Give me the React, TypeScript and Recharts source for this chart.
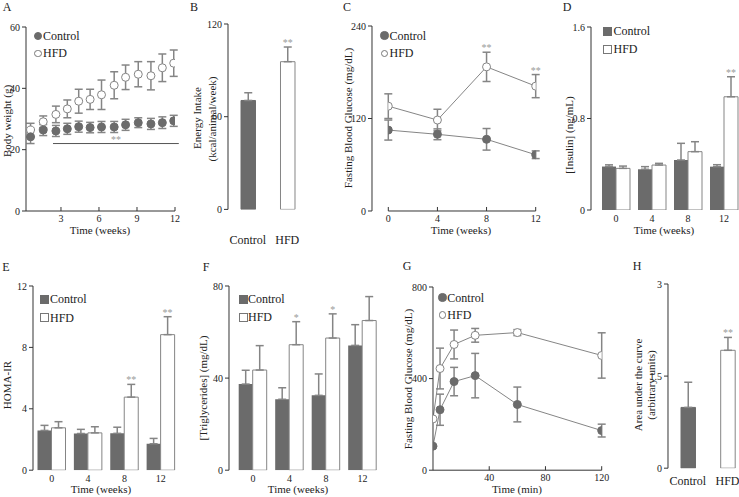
import React from 'react';
import { ComposedChart, Line, Bar, XAxis, YAxis, ErrorBar, Cell, LabelList, ReferenceLine } from 'recharts';

const FONT = '"Liberation Serif", "Times New Roman", "DejaVu Serif", serif';
const DARK = '#6b6b6b';
const LINE = '#858585';
const AXIS = '#333';
const STAR = '#9a9a9a';

// A: body weight (g) per week
const bwWeeks = [0.6, 1.6, 2.6, 3.5, 4.4, 5.3, 6.2, 7.2, 8.1, 9.1, 10.1, 11, 11.9];
const bwControl = [24.2, 26.4, 26.1, 26.8, 27.5, 27.2, 27.4, 27.4, 28.1, 28.8, 28.4, 28.8, 29.4];
const bwControlErr = [2.2, 1.8, 1.8, 1.8, 1.8, 1.7, 1.8, 1.8, 1.8, 1.6, 1.8, 1.9, 1.8];
const bwHfd = [26.4, 29.1, 31.5, 33.3, 35.8, 36.4, 37.9, 41.0, 43.6, 44.6, 44.1, 46.7, 48.2];
const bwHfdErr = [2.2, 1.9, 2.7, 2.9, 3.9, 3.3, 4.8, 4.4, 4.0, 4.1, 4.6, 4.5, 4.3];
const bwSigSpan = [2.37, 12.3];
const bwSigLevel = 22;

// B: energy intake
const eiGroups = ['Control', 'HFD'];
const eiMean = [70.5, 95.6];
const eiErr = [5, 9.5];
const eiStars = ['', '**'];

// C: fasting blood glucose
const fbgWeeks = [0, 4, 8, 12];
const fbgControl = [105, 99.5, 93, 73];
const fbgControlErr = [13, 7, 14, 5];
const fbgHfd = [136, 118, 187, 162];
const fbgHfdErr = [16, 14, 19, 15];
const fbgStars = ['', '', '**', '**'];

// D: insulin
const weekLabels = ['0', '4', '8', '12'];
const insControl = [0.38, 0.356, 0.437, 0.379];
const insControlErr = [0.015, 0.023, 0.146, 0.017];
const insHfd = [0.364, 0.393, 0.51, 0.99];
const insHfdErr = [0.02, 0.015, 0.087, 0.175];
const insStars = ['', '', '', '**'];

// E: HOMA-IR
const homaControl = [2.59, 2.39, 2.4, 1.72];
const homaControlErr = [0.33, 0.27, 0.4, 0.35];
const homaHfd = [2.76, 2.43, 4.76, 8.83];
const homaHfdErr = [0.4, 0.4, 0.83, 1.17];
const homaStars = ['', '', '**', '**'];

// F: triglycerides
const tgControl = [37.4, 30.8, 32.5, 54.2];
const tgControlErr = [6, 5, 9.3, 9];
const tgHfd = [43.5, 54.5, 57.4, 65];
const tgHfdErr = [10.6, 10, 10.5, 10.4];
const tgStars = ['', '*', '*', ''];

// G: glucose tolerance
const gttMinutes = [0, 5, 15, 30, 60, 120];
const gttControl = [105, 264, 387, 413, 287, 173];
const gttControlErr = [null, 68, 62, 97, 76, 28];
const gttHfd = [224, 444, 549, 589, 601, 501];
const gttHfdErr = [null, 89, 63, 30, 13, 99];

// H: area under the curve
const aucGroups = ['Control', 'HFD'];
const aucMean = [0.99, 1.92];
const aucErr = [0.41, 0.21];
const aucStars = ['', '**'];

const bwData = bwWeeks.map((w, i) => ({
  w, ctrl: bwControl[i], ctrlErr: bwControlErr[i], hfd: bwHfd[i], hfdErr: bwHfdErr[i],
}));

const fbgData = fbgWeeks.map((w, i) => ({
  w, ctrl: fbgControl[i], ctrlErr: fbgControlErr[i], hfd: fbgHfd[i], hfdErr: fbgHfdErr[i],
  starY: fbgStars[i] ? fbgHfd[i] + fbgHfdErr[i] : null,
  star: fbgStars[i] || null,
}));

const gttData = gttMinutes.map((t, i) => ({
  t, ctrl: gttControl[i], ctrlErr: gttControlErr[i], hfd: gttHfd[i], hfdErr: gttHfdErr[i],
}));

function groupRows(c: number[], ce: number[], h: number[], he: number[], stars: string[]) {
  return weekLabels.map((k, i) => ({
    k, ctrl: c[i], ctrlEB: [0, ce[i]], hfd: h[i], hfdEB: [0, he[i]], hfdErr: he[i], star: stars[i] || null,
  }));
}

function pairRows(groups: string[], mean: number[], err: number[], stars: string[]) {
  return groups.map((k, i) => ({ k, v: mean[i], eb: [0, err[i]], e: err[i], star: stars[i] || null }));
}

const PL = 34;
const PT = 12;
const PR = 14;

function place(x0: number, y0: number, x1: number, y1: number, bottom = 30) {
  return {
    pos: { position: 'absolute' as const, left: x0 - PL, top: y0 - PT },
    width: x1 - x0 + PL + PR,
    height: y1 - y0 + PT + bottom,
    bottom,
  };
}

const margin = { top: PT, right: PR, left: 0, bottom: 0 };
const tick = { fontSize: 10, fill: '#222', fontFamily: FONT };
const yProps = { width: PL, tick, tickSize: 4, tickMargin: 2, stroke: AXIS, interval: 0 as const, allowDataOverflow: true };
const xInward = { tick, tickSize: -4, tickMargin: 8, stroke: AXIS, interval: 0 as const, allowDataOverflow: true };
const ctrlDot = { r: 4, fill: DARK, stroke: DARK, strokeWidth: 1 };
const hfdDot = { r: 4, fill: '#fff', stroke: LINE, strokeWidth: 1 };
const starLabel = { fill: STAR, fontSize: 10, fontFamily: FONT };

function Txt({ x, y, size = 11, align = 'center', rotate = false, children }: any) {
  const tx = align === 'center' ? '-50%' : '0';
  return (
    <div
      style={{
        position: 'absolute', left: x, top: y, fontSize: size, lineHeight: 1, whiteSpace: 'nowrap',
        transform: rotate ? 'translate(-50%, -50%) rotate(-90deg)' : `translate(${tx}, -50%)`,
      }}
    >
      {children}
    </div>
  );
}

function Key({ x, y, textX, gap, shape }: { x: number; y: number; textX: number; gap: number; shape: 'dot' | 'box' }) {
  const items = [
    { label: 'Control', filled: true },
    { label: 'HFD', filled: false },
  ];
  return (
    <>
      {items.map((it, i) => {
        const s = shape === 'box' ? 9 : it.filled ? 8.5 : 7.5;
        const cy = y + i * gap;
        return (
          <React.Fragment key={it.label}>
            <div
              style={{
                position: 'absolute', left: x - s / 2, top: cy - s / 2, width: s, height: s, boxSizing: 'border-box',
                borderRadius: shape === 'dot' ? '50%' : 0, background: it.filled ? DARK : '#fff',
                border: `1px solid ${it.filled ? DARK : '#777'}`,
              }}
            />
            <Txt x={textX} y={cy} size={12} align="left">{it.label}</Txt>
          </React.Fragment>
        );
      })}
    </>
  );
}

function GroupBars({ x0, y0, x1, y1, padLeft, rows, yMax, yTicks }: any) {
  const p = place(x0, y0, x1, y1, 26);
  return (
    <div style={p.pos}>
      <ComposedChart width={p.width} height={p.height} data={rows} margin={margin} barGap={0} barCategoryGap={0}>
        <XAxis dataKey="k" type="category" height={p.bottom} padding={{ left: padLeft, right: 0 }} tick={tick}
          tickSize={0} tickMargin={4.4} axisLine={false} tickLine={false} interval={0} />
        <YAxis type="number" domain={[0, yMax]} ticks={yTicks} {...yProps} />
        <Bar dataKey="ctrl" stackId="c" fill={DARK} barSize={14} isAnimationActive={false}>
          <ErrorBar dataKey="ctrlEB" width={4} stroke={LINE} direction="y" />
        </Bar>
        <Bar dataKey="hfd" stackId="h" fill="#fff" stroke={LINE} barSize={14} isAnimationActive={false}>
          <ErrorBar dataKey="hfdEB" width={4} stroke={LINE} direction="y" />
        </Bar>
        <Bar dataKey="hfdErr" stackId="h" fill="none" barSize={14} isAnimationActive={false}>
          <LabelList dataKey="star" position="top" offset={1} {...starLabel} />
        </Bar>
      </ComposedChart>
    </div>
  );
}

function PairBars({ x0, y0, x1, y1, rows, yMax, yTicks, labelMargin }: any) {
  const p = place(x0, y0, x1, y1, 50);
  return (
    <div style={p.pos}>
      <ComposedChart width={p.width} height={p.height} data={rows} margin={margin} barCategoryGap={0}>
        <XAxis dataKey="k" type="category" height={p.bottom} tick={{ ...tick, fontSize: 12 }}
          tickSize={0} tickMargin={labelMargin} axisLine={false} tickLine={false} interval={0} />
        <YAxis type="number" domain={[0, yMax]} ticks={yTicks} {...yProps} />
        <Bar dataKey="v" stackId="s" barSize={14.5} isAnimationActive={false}>
          {rows.map((r: any, i: number) => (
            <Cell key={r.k} fill={i === 0 ? DARK : '#fff'} stroke={i === 0 ? DARK : LINE} />
          ))}
          <ErrorBar dataKey="eb" width={4} stroke={LINE} direction="y" />
        </Bar>
        <Bar dataKey="e" stackId="s" fill="none" barSize={14.5} isAnimationActive={false}>
          <LabelList dataKey="star" position="top" offset={1} {...starLabel} />
        </Bar>
      </ComposedChart>
    </div>
  );
}

export default function App() {
  const a = place(26, 27, 175, 211);
  const c = place(372, 26, 535.7, 211);
  const g = place(433, 287.3, 601.7, 470.5);

  return (
    <div style={{
      position: 'absolute', left: 0, top: 0, width: 739, height: 497, overflow: 'hidden',
      background: '#fff', fontFamily: FONT, color: '#222',
    }}>
      {/* A */}
      <div style={a.pos}>
        <ComposedChart width={a.width} height={a.height} data={bwData} margin={margin}>
          <XAxis dataKey="w" type="number" domain={[0.24, 12]} ticks={[3, 6, 9, 12]} height={a.bottom} {...xInward} />
          <YAxis type="number" domain={[0, 60]} ticks={[0, 20, 40, 60]} {...yProps} />
          <ReferenceLine
            segment={[{ x: bwSigSpan[0], y: bwSigLevel }, { x: bwSigSpan[1], y: bwSigLevel }]}
            stroke="#555" ifOverflow="visible"
            label={{ value: '**', position: 'top', offset: 1, ...starLabel }}
          />
          <Line dataKey="hfd" stroke="none" dot={hfdDot} activeDot={false} isAnimationActive={false}>
            <ErrorBar dataKey="hfdErr" width={4} stroke={LINE} direction="y" />
          </Line>
          <Line dataKey="ctrl" stroke="none" dot={ctrlDot} activeDot={false} isAnimationActive={false}>
            <ErrorBar dataKey="ctrlErr" width={4} stroke={LINE} direction="y" />
          </Line>
        </ComposedChart>
      </div>

      {/* B */}
      <PairBars x0={228} y0={24.3} x1={307} y1={209.7} rows={pairRows(eiGroups, eiMean, eiErr, eiStars)}
        yMax={120} yTicks={[0, 60, 120]} labelMargin={26} />

      {/* C */}
      <div style={c.pos}>
        <ComposedChart width={c.width} height={c.height} data={fbgData} margin={margin}>
          <XAxis dataKey="w" type="number" domain={[0, 12]} ticks={fbgWeeks} padding={{ left: 16.3, right: 0 }}
            height={c.bottom} axisLine={false} {...xInward} />
          <YAxis type="number" domain={[0, 240]} ticks={[0, 120, 240]} {...yProps} />
          <ReferenceLine segment={[{ x: 0, y: 0 }, { x: 12, y: 0 }]} stroke={AXIS} />
          <Line dataKey="ctrl" stroke={LINE} dot={ctrlDot} activeDot={false} isAnimationActive={false}>
            <ErrorBar dataKey="ctrlErr" width={4} stroke={LINE} direction="y" />
          </Line>
          <Line dataKey="hfd" stroke={LINE} dot={hfdDot} activeDot={false} isAnimationActive={false}>
            <ErrorBar dataKey="hfdErr" width={4} stroke={LINE} direction="y" />
          </Line>
          <Line dataKey="starY" stroke="none" dot={false} activeDot={false} isAnimationActive={false}>
            <LabelList dataKey="star" position="top" offset={1} {...starLabel} />
          </Line>
        </ComposedChart>
      </div>

      {/* D */}
      <GroupBars x0={591} y0={27} x1={742} y1={210} padLeft={7}
        rows={groupRows(insControl, insControlErr, insHfd, insHfdErr, insStars)} yMax={1.6} yTicks={[0, 0.8, 1.6]} />

      {/* E */}
      <GroupBars x0={33} y0={286.3} x1={179} y1={470.5} padLeft={0.5}
        rows={groupRows(homaControl, homaControlErr, homaHfd, homaHfdErr, homaStars)} yMax={12} yTicks={[0, 4, 8, 12]} />

      {/* F */}
      <GroupBars x0={229.3} y0={286.3} x1={381} y1={470.5} padLeft={5.7}
        rows={groupRows(tgControl, tgControlErr, tgHfd, tgHfdErr, tgStars)} yMax={80} yTicks={[0, 40, 80]} />

      {/* G */}
      <div style={g.pos}>
        <ComposedChart width={g.width} height={g.height} data={gttData} margin={margin}>
          <XAxis dataKey="t" type="number" domain={[0, 120]} ticks={[40, 80, 120]} height={g.bottom} {...xInward} />
          <YAxis type="number" domain={[0, 800]} ticks={[0, 400, 800]} {...yProps} />
          <Line dataKey="ctrl" stroke={LINE} dot={ctrlDot} activeDot={false} isAnimationActive={false}>
            <ErrorBar dataKey="ctrlErr" width={4} stroke={LINE} direction="y" />
          </Line>
          <Line dataKey="hfd" stroke={LINE} dot={hfdDot} activeDot={false} isAnimationActive={false}>
            <ErrorBar dataKey="hfdErr" width={4} stroke={LINE} direction="y" />
          </Line>
        </ComposedChart>
      </div>

      {/* H */}
      <PairBars x0={668.3} y0={284.3} x1={747.7} y1={468.5} rows={pairRows(aucGroups, aucMean, aucErr, aucStars)}
        yMax={3} yTicks={[0, 1.5, 3]} labelMargin={8} />

      {/* panel letters */}
      <Txt x={7} y={7} size={12}>A</Txt>
      <Txt x={194} y={7} size={12}>B</Txt>
      <Txt x={347} y={7} size={12}>C</Txt>
      <Txt x={567} y={7} size={12}>D</Txt>
      <Txt x={6} y={267} size={12}>E</Txt>
      <Txt x={206} y={267} size={12}>F</Txt>
      <Txt x={407} y={266} size={12}>G</Txt>
      <Txt x={637} y={266} size={12}>H</Txt>

      {/* axis titles */}
      <Txt x={7} y={121} rotate>Body weight (g)</Txt>
      <Txt x={100} y={230}>Time (weeks)</Txt>
      <Txt x={197} y={118} rotate>Energy Intake</Txt>
      <Txt x={212} y={119} rotate>(kcal/animal/week)</Txt>
      <Txt x={348} y={118} rotate>Fasting Blood Glucose (mg/dL)</Txt>
      <Txt x={461} y={230}>Time (weeks)</Txt>
      <Txt x={569} y={135} rotate>[Insulin] (ng/mL)</Txt>
      <Txt x={664} y={230}>Time (weeks)</Txt>
      <Txt x={7} y={385} rotate>HOMA-IR</Txt>
      <Txt x={101} y={489}>Time (weeks)</Txt>
      <Txt x={203} y={388} rotate>[Triglycerides] (mg/dL)</Txt>
      <Txt x={298} y={489}>Time (weeks)</Txt>
      <Txt x={408} y={379} rotate>Fasting Blood Glucose (mg/dL)</Txt>
      <Txt x={517} y={489}>Time (min)</Txt>
      <Txt x={638} y={385} rotate>Area under the curve</Txt>
      <Txt x={651} y={385} rotate>(arbitrary units)</Txt>

      {/* legends */}
      <Key x={38} y={36} textX={43} gap={17.3} shape="dot" />
      <Key x={384.3} y={35.7} textX={389.5} gap={17.6} shape="dot" />
      <Key x={607.5} y={31} textX={613.5} gap={18.3} shape="box" />
      <Key x={44.5} y={299} textX={50} gap={18.5} shape="box" />
      <Key x={243} y={299} textX={248} gap={18} shape="box" />
      <Key x={442.7} y={297.7} textX={447.3} gap={17.3} shape="dot" />
    </div>
  );
}
